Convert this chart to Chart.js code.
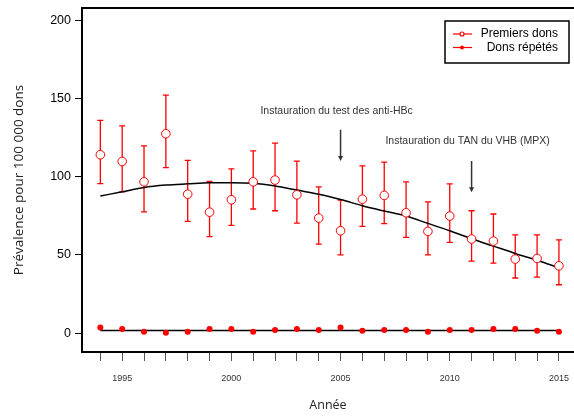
<!DOCTYPE html>
<html>
<head>
<meta charset="utf-8">
<script src="https://cdn.jsdelivr.net/npm/chart.js@4"></script>
<style>
  html, body { margin: 0; padding: 0; background: #fff; }
</style>
</head>
<body>
<canvas id="chart" width="574" height="417"></canvas>
<script>
// ============ DONNÉES ============
const years = [1994, 1995, 1996, 1997, 1998, 1999, 2000, 2001, 2002, 2003, 2004,
               2005, 2006, 2007, 2008, 2009, 2010, 2011, 2012, 2013, 2014, 2015];
const premiers     = [114, 109.7, 96.7, 127.4, 88.8, 77.3, 85.2, 96.7, 97.8, 88.4, 73.5,
                      65.4, 85.6, 88, 76.9, 65, 74.8, 60.1, 58.8, 47.3, 47.7, 43];
const premiersLow  = [95.5, 90.3, 77.5, 105.7, 71.4, 61.6, 68.8, 79.3, 78.2, 70.3, 56.9,
                      50, 68.2, 69.9, 61.2, 50, 58, 46, 44.7, 35.2, 35.8, 30.9];
const premiersHigh = [136, 132.5, 119.7, 152.1, 110.4, 97, 105, 116.5, 121.4, 109.9, 93.5,
                      85, 106.9, 109.3, 96.7, 83.9, 95.4, 78.2, 76.1, 62.8, 62.8, 59.6];
const tendance     = [87.6, 90.3, 93.1, 94.6, 95.4, 96.1, 96.1, 95.7, 94, 91.4, 88.8,
                      85.4, 81.4, 78, 74.8, 70.1, 65.4, 60.3, 55.6, 50.9, 46.5, 41.7];
const repetes      = [3.6, 2.6, 0.8, 0.2, 0.8, 2.6, 2.6, 0.8, 1.9, 2.6, 1.9,
                      3.6, 1.5, 1.9, 1.9, 0.8, 1.9, 1.9, 2.6, 2.6, 1.5, 0.8];
const repetesTendance = [1.7, 1.7];
const repetesTendanceYears = [1994, 2015];

const yTicks = [0, 50, 100, 150, 200];
const xLabels = [1995, 2000, 2005, 2010, 2015];

// annotations (flèches)
const eventYears  = [2005, 2011];
const eventLabels = ['Instauration du test des anti-HBc', 'Instauration du TAN du VHB (MPX)'];
const eventTextY  = [142, 122.7];
const eventTop    = [130, 110];
const eventBottom = [110, 90];

const legendLabels = ['Premiers dons', 'Dons répétés'];

const RED = '#ff0000';

// ============ PLUGINS ============
const errorBars = {
  id: 'errorBars',
  beforeDatasetsDraw(chart) {
    const { ctx, scales: { x, y } } = chart;
    ctx.save();
    ctx.strokeStyle = RED;
    ctx.lineWidth = 1.3;
    years.forEach((yr, i) => {
      const px = x.getPixelForValue(yr);
      const lo = y.getPixelForValue(premiersLow[i]);
      const hi = y.getPixelForValue(premiersHigh[i]);
      ctx.beginPath();
      ctx.moveTo(px, lo); ctx.lineTo(px, hi);
      ctx.moveTo(px - 3, lo); ctx.lineTo(px + 3, lo);
      ctx.moveTo(px - 3, hi); ctx.lineTo(px + 3, hi);
      ctx.stroke();
    });
    ctx.restore();
  }
};

const extras = {
  id: 'extras',
  afterDraw(chart) {
    const { ctx, chartArea: a, scales: { x, y } } = chart;
    ctx.save();

    // cadre du haut
    ctx.strokeStyle = '#000';
    ctx.lineWidth = 2;
    ctx.beginPath();
    ctx.moveTo(a.left - 1, a.top); ctx.lineTo(a.right, a.top);
    ctx.stroke();

    // annotations
    ctx.font = '10.5px "Liberation Sans", Arial, sans-serif';
    ctx.fillStyle = '#333';
    ctx.textAlign = 'center';
    ctx.textBaseline = 'middle';
    eventYears.forEach((yr, i) => {
      const px = x.getPixelForValue(yr);
      ctx.fillText(eventLabels[i], px - 4, y.getPixelForValue(eventTextY[i]));
      const t = y.getPixelForValue(eventTop[i]);
      const b = y.getPixelForValue(eventBottom[i]);
      ctx.strokeStyle = '#333';
      ctx.lineWidth = 1.5;
      ctx.beginPath();
      ctx.moveTo(px, t); ctx.lineTo(px, b - 3);
      ctx.stroke();
      ctx.beginPath();
      ctx.moveTo(px - 2.5, b - 5); ctx.lineTo(px + 2.5, b - 5); ctx.lineTo(px, b);
      ctx.closePath();
      ctx.fill();
    });

    // légende
    const bx = 445, by = 21, bw = 124, bh = 42;
    ctx.strokeStyle = '#000';
    ctx.lineWidth = 1.5;
    ctx.strokeRect(bx, by, bw, bh);
    ctx.font = '12px "Liberation Sans", Arial, sans-serif';
    ctx.fillStyle = '#000';
    ctx.textAlign = 'right';
    const rows = [34, 47.5];
    rows.forEach((ry, i) => {
      ctx.strokeStyle = RED;
      ctx.lineWidth = 1.2;
      ctx.beginPath();
      ctx.moveTo(453, ry); ctx.lineTo(472, ry);
      ctx.stroke();
      ctx.beginPath();
      ctx.arc(462, ry, 2, 0, Math.PI * 2);
      if (i === 0) { ctx.fillStyle = '#fff'; ctx.fill(); ctx.stroke(); }
      else { ctx.fillStyle = RED; ctx.fill(); }
      ctx.fillStyle = '#000';
      ctx.fillText(legendLabels[i], 558, ry);
    });
    ctx.restore();
  }
};

// ============ GRAPHIQUE ============
const ctx = document.getElementById('chart').getContext('2d');
new Chart(ctx, {
  type: 'line',
  data: {
    datasets: [
      {
        label: legendLabels[0],
        data: years.map((yr, i) => ({ x: yr, y: premiers[i] })),
        showLine: false,
        pointRadius: 4.3,
        pointBorderWidth: 1,
        pointBorderColor: RED,
        pointBackgroundColor: '#fff',
        order: 1
      },
      {
        label: 'tendance premiers',
        data: years.map((yr, i) => ({ x: yr, y: tendance[i] })),
        borderColor: '#000',
        borderWidth: 1.5,
        pointRadius: 0,
        cubicInterpolationMode: 'monotone',
        order: 3
      },
      {
        label: legendLabels[1],
        data: years.map((yr, i) => ({ x: yr, y: repetes[i] })),
        showLine: false,
        pointRadius: 3,
        pointBorderWidth: 0,
        pointBackgroundColor: RED,
        order: 0
      },
      {
        label: 'tendance répétés',
        data: repetesTendanceYears.map((yr, i) => ({ x: yr, y: repetesTendance[i] })),
        borderColor: '#000',
        borderWidth: 1.5,
        pointRadius: 0,
        order: 2
      }
    ]
  },
  options: {
    responsive: false,
    animation: false,
    layout: { autoPadding: false, padding: { top: 8, right: 0, left: 0, bottom: 0 } },
    plugins: { legend: { display: false }, tooltip: { enabled: false } },
    scales: {
      x: {
        type: 'linear',
        min: 1993.16,
        max: 2015.69,
        afterBuildTicks: s => { s.ticks = years.map(v => ({ value: v })); },
        afterFit: s => { s.height = 65; s.paddingLeft = 0; s.paddingRight = 0; },
        ticks: {
          autoSkip: false,
          maxRotation: 0,
          padding: 12,
          color: '#333',
          font: { family: '"Liberation Sans", Arial, sans-serif', size: 9 },
          callback: v => xLabels.includes(v) ? String(v) : ''
        },
        grid: { drawOnChartArea: false, drawTicks: true, tickLength: 9, tickColor: '#555', tickWidth: 1 },
        border: { display: true, color: '#000', width: 2 },
        title: {
          display: true,
          text: 'Année',
          color: '#222',
          font: { family: '"Open Sans", sans-serif', size: 12.5 },
          padding: { top: 0, bottom: 4 }
        }
      },
      y: {
        min: -12.1,
        max: 207.8,
        afterBuildTicks: s => { s.ticks = yTicks.map(v => ({ value: v })); },
        afterFit: s => { s.width = 82; s.paddingTop = 0; s.paddingBottom = 0; },
        ticks: {
          padding: 4,
          color: '#000',
          font: { family: '"Liberation Sans", Arial, sans-serif', size: 12.5 }
        },
        grid: { drawOnChartArea: false, drawTicks: true, tickLength: 7, tickColor: '#000', tickWidth: 1 },
        border: { display: true, color: '#000', width: 2 },
        title: {
          display: true,
          text: 'Prévalence pour 100 000 dons',
          color: '#222',
          font: { family: '"Open Sans", sans-serif', size: 13.5 },
          padding: { top: 11, bottom: 0 }
        }
      }
    }
  },
  plugins: [errorBars, extras]
});
</script>
</body>
</html>
